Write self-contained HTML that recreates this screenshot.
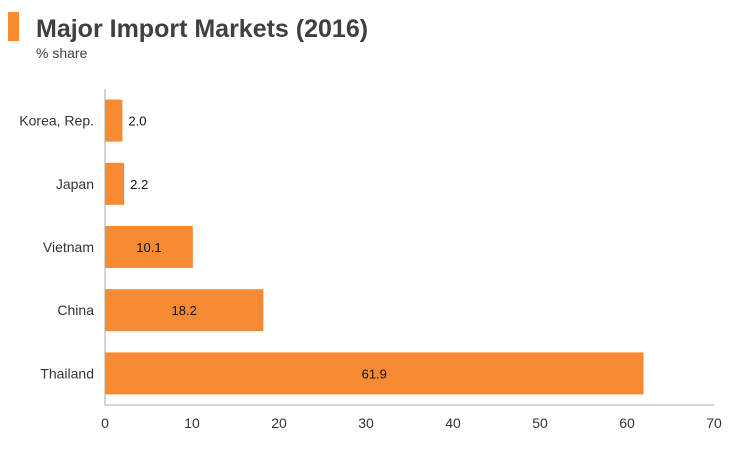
<!DOCTYPE html>
<html><head><meta charset="utf-8"><style>
body{margin:0;background:#fff;font-family:"Liberation Sans",Arial,sans-serif;}
svg text{font-family:"Liberation Sans",Arial,sans-serif;}
</style></head><body>
<svg width="750" height="450" xmlns="http://www.w3.org/2000/svg">
<rect x="8" y="12" width="11" height="29" fill="#f68b33"/>
<text x="36" y="37" font-size="25" font-weight="bold" fill="#404040">Major Import Markets (2016)</text>
<text x="36" y="58" font-size="14" fill="#404040">% share</text>
<g id="plot"></g>
</svg>
<script>
const categories=["Korea, Rep.","Japan","Vietnam","China","Thailand"];
const values=[2.0,2.2,10.1,18.2,61.9];
const ticks=[0,10,20,30,40,50,60,70];
const x0=105,x1=714,y0=89,y1=405,xmax=70;
const xs=v=>x0+(v/xmax)*(x1-x0);
const band=(y1-y0)/categories.length;
const g=document.getElementById('plot');
const NS="http://www.w3.org/2000/svg";
function mk(t,a){const e=document.createElementNS(NS,t);for(const k in a)e.setAttribute(k,a[k]);g.appendChild(e);return e;}
categories.forEach((c,i)=>{
 const yc=y0+band*(i+0.5);
 const r=mk('rect',{x:x0,y:yc-21,width:xs(values[i])-x0,height:42,fill:'#f68b33'});
 
 
 const l=mk('text',{x:x0-11,y:yc+5,'font-size':14,'text-anchor':'end',fill:'#333'});
 l.textContent=c;
 
 
 const w=xs(values[i])-x0;
 const inside=w>40;
 const v=mk('text',{x:inside?x0+w/2:xs(values[i])+6,y:yc+5,'font-size':13,'text-anchor':inside?'middle':'start',fill:'#111'});
 v.textContent=values[i].toFixed(1);
 
 
});
const ax=mk('line',{x1:x0,y1:y0,x2:x0,y2:y1,stroke:'#aaa','stroke-width':1});


const bx=mk('line',{x1:x0,y1:y1,x2:x1,y2:y1,stroke:'#aaa','stroke-width':1});


ticks.forEach(t=>{
 const e=mk('text',{x:xs(t),y:428,'font-size':14,'text-anchor':'middle',fill:'#333'});
 e.textContent=t;
 
 
});
</script>
</body></html>
